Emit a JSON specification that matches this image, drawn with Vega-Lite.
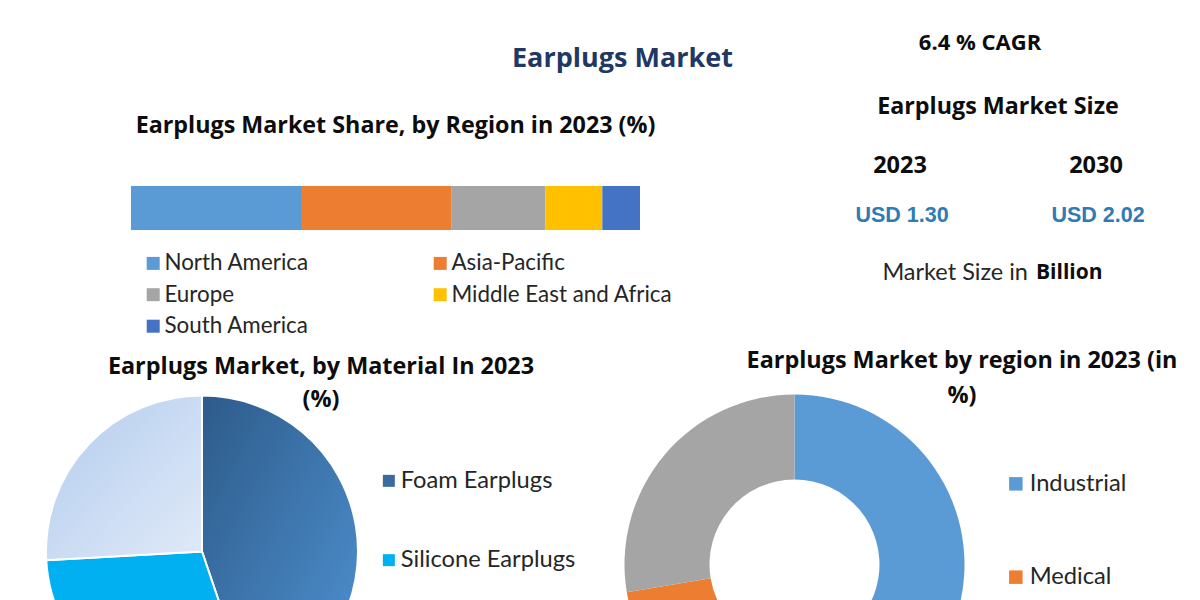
{
  "$schema": "https://vega.github.io/schema/vega-lite/v6.json",
  "background": "white",
  "padding": {"left": 42, "top": 25, "right": 0, "bottom": 0},
  "autosize": {"type": "pad"},
  "title": {"text": "Earplugs Market", "anchor": "start", "frame": "group", "dx": 381, "offset": -48, "fontSize": 27, "font": "Open Sans", "fontWeight": "bold", "color": "#1F3864"},
  "spacing": 10.5,
  "resolve": {"scale": {"color": "independent"}, "legend": {"color": "independent"}},
  "vconcat": [
    {
      "bounds": "flush",
      "spacing": 211,
      "resolve": {"scale": {"color": "independent"}, "legend": {"color": "independent"}},
      "hconcat": [
        {
          "width": 509,
          "height": 205,
          "title": {"text": "Earplugs Market Share, by Region in 2023 (%)", "frame": "group", "anchor": "middle", "dx": 10, "offset": -113, "fontSize": 23.3, "fontWeight": "bold", "color": "#0d0d0d", "font": "Open Sans"},
          "data": {"values": [
            {"region": "North America", "year": "2023", "share": 33.4, "ord": 1},
            {"region": "Asia-Pacific", "year": "2023", "share": 29.5, "ord": 2},
            {"region": "Europe", "year": "2023", "share": 18.5, "ord": 3},
            {"region": "Middle East and Africa", "year": "2023", "share": 11.2, "ord": 4},
            {"region": "South America", "year": "2023", "share": 7.4, "ord": 5}
          ]},
          "mark": {"type": "bar"},
          "encoding": {
            "x": {"field": "share", "type": "quantitative", "stack": "zero", "scale": {"domain": [0, 100]}, "axis": null},
            "y": {"field": "year", "type": "nominal", "scale": {"domain": ["t1", "t2", "t3", "2023"], "paddingInner": 0, "paddingOuter": 0.33, "align": 1}, "axis": null},
            "color": {"field": "region", "type": "nominal",
              "scale": {"domain": ["North America", "Asia-Pacific", "Europe", "Middle East and Africa", "South America"], "range": ["#5B9BD5", "#ED7D31", "#A5A5A5", "#FFC000", "#4472C4"]},
              "legend": {"orient": "none", "direction": "horizontal", "legendX": 11, "legendY": 227, "columns": 2, "columnPadding": 120, "rowPadding": 8.5, "title": null, "symbolType": "square", "symbolSize": 169, "symbolStrokeWidth": 0, "labelFontSize": 22.4, "labelFont": "Lato", "labelColor": "#262626", "labelOffset": 0, "labelLimit": 400, "padding": 0}},
            "order": {"field": "ord", "type": "quantitative"}
          }
        },
        {
          "width": 294,
          "height": 266,
          "data": {"values": [
            {"line": "CAGR", "period": "2023-2030", "text": "6.4 % CAGR"},
            {"line": "Heading", "period": "2023-2030", "text": "Earplugs Market Size"},
            {"line": "Year", "period": "2023", "text": "2023"},
            {"line": "Year", "period": "2030", "text": "2030"},
            {"line": "Value", "period": "2023", "text": "USD 1.30"},
            {"line": "Value", "period": "2030", "text": "USD 2.02"},
            {"line": "Unit", "period": "2023-2030", "text": "Market Size in", "unit": "Billion"}
          ]},
          "encoding": {
            "x": {"field": "period", "type": "nominal", "scale": {"type": "point", "domain": ["2023", "2023-2030", "2030"], "padding": 0.5}, "axis": null},
            "y": {"field": "line", "type": "nominal", "scale": {"type": "point", "domain": ["CAGR", "Heading", "Year", "Value", "Unit"], "padding": 0.313}, "axis": null}
          },
          "layer": [
            {"transform": [{"filter": "datum.line === 'CAGR'"}], "mark": {"type": "text", "font": "Open Sans", "fontSize": 22, "fontWeight": "bold", "color": "#0d0d0d", "dx": -18}, "encoding": {"text": {"field": "text"}}},
            {"transform": [{"filter": "datum.line === 'Heading'"}], "mark": {"type": "text", "font": "Open Sans", "fontSize": 23.3, "fontWeight": "bold", "color": "#0d0d0d", "dy": 6.5}, "encoding": {"text": {"field": "text"}}},
            {"transform": [{"filter": "datum.line === 'Year'"}], "mark": {"type": "text", "font": "Open Sans", "fontSize": 23.5, "fontWeight": "bold", "color": "#0d0d0d", "dy": 8}, "encoding": {"text": {"field": "text"}}},
            {"transform": [{"filter": "datum.line === 'Value'"}], "mark": {"type": "text", "font": "Liberation Sans", "fontSize": 21.5, "fontWeight": "bold", "color": "#2E7BB5", "dx": 2}, "encoding": {"text": {"field": "text"}}},
            {"transform": [{"filter": "datum.line === 'Unit'"}], "mark": {"type": "text", "font": "Lato", "fontSize": 23.5, "color": "#262626", "align": "right", "dx": 30}, "encoding": {"text": {"field": "text"}}},
            {"transform": [{"filter": "datum.line === 'Unit'"}], "mark": {"type": "text", "font": "Open Sans", "fontSize": 21, "fontWeight": "bold", "color": "#0d0d0d", "align": "left", "dx": 38}, "encoding": {"text": {"field": "unit"}}}
          ]
        }
      ]
    },
    {
      "bounds": "flush",
      "spacing": 351.5,
      "resolve": {"scale": {"color": "independent"}, "legend": {"color": "independent"}},
      "hconcat": [
        {
          "width": 142,
          "height": 280,
          "title": {"text": ["Earplugs Market, by Material In 2023", "(%)"], "frame": "group", "anchor": "middle", "dx": 119, "offset": -21, "fontSize": 23.4, "lineHeight": 33, "fontWeight": "bold", "color": "#0d0d0d", "font": "Open Sans"},
          "data": {"values": [
            {"material": "Foam Earplugs", "share": 44.8, "ord": 1},
            {"material": "Silicone Earplugs", "share": 29.3, "ord": 2},
            {"material": "Others", "share": 25.9, "ord": 3}
          ]},
          "encoding": {
            "theta": {"field": "share", "type": "quantitative", "stack": true},
            "order": {"field": "ord", "type": "quantitative"}
          },
          "layer": [
            {
              "mark": {"type": "arc", "radius": 156},
              "encoding": {
                "color": {"field": "material", "type": "nominal",
                  "scale": {"domain": ["Foam Earplugs", "Silicone Earplugs", "Others"], "range": ["#3A6B9F", "#00B0F0", "#C9DAF1"]},
                  "legend": {"orient": "none", "legendX": 246, "legendY": 57.5, "direction": "vertical", "rowPadding": 54.3, "title": null, "symbolType": "square", "symbolSize": 144, "symbolStrokeWidth": 0, "labelFontSize": 23.7, "labelFont": "Lato", "labelColor": "#262626", "labelOffset": 0, "labelLimit": 400, "padding": 0}}
              }
            },
            {
              "mark": {"type": "arc", "radius": 156, "stroke": "white", "strokeWidth": 2},
              "encoding": {
                "color": {
                  "condition": [
                    {"test": "datum.material === 'Foam Earplugs'", "value": {"gradient": "linear", "x1": 0, "y1": 0, "x2": 1, "y2": 1, "stops": [{"offset": 0, "color": "#2D5B8A"}, {"offset": 1, "color": "#5093D3"}]}},
                    {"test": "datum.material === 'Silicone Earplugs'", "value": "#00B0F0"}
                  ],
                  "value": {"gradient": "linear", "x1": 0, "y1": 0, "x2": 1, "y2": 1, "stops": [{"offset": 0, "color": "#B3CCEE"}, {"offset": 1, "color": "#E0EAF8"}]}
                }
              }
            }
          ]
        },
        {
          "width": 340,
          "height": 306,
          "title": {"text": ["Earplugs Market by region in 2023 (in", "%)"], "frame": "group", "anchor": "middle", "dx": 167.5, "offset": -13.5, "fontSize": 23.4, "lineHeight": 35, "fontWeight": "bold", "color": "#0d0d0d", "font": "Open Sans"},
          "data": {"values": [
            {"application": "Industrial", "share": 55.0, "ord": 1},
            {"application": "Medical", "share": 17.4, "ord": 2},
            {"application": "Others", "share": 27.6, "ord": 3}
          ]},
          "mark": {"type": "arc", "radius": 170, "innerRadius": 85},
          "encoding": {
            "theta": {"field": "share", "type": "quantitative", "stack": true},
            "order": {"field": "ord", "type": "quantitative"},
            "color": {"field": "application", "type": "nominal",
              "scale": {"domain": ["Industrial", "Medical", "Others"], "range": ["#5B9BD5", "#ED7D31", "#A5A5A5"]},
              "legend": {"orient": "none", "legendX": 379.5, "legendY": 60.5, "direction": "vertical", "rowPadding": 68.3, "title": null, "symbolType": "square", "symbolSize": 182, "symbolStrokeWidth": 0, "labelFontSize": 23.7, "labelFont": "Lato", "labelColor": "#262626", "labelOffset": 2, "labelLimit": 400, "padding": 0}}
          }
        }
      ]
    }
  ],
  "config": {
    "view": {"stroke": null},
    "font": "Lato",
    "title": {"font": "Open Sans"},
    "legend": {"labelFont": "Lato"}
  }
}
